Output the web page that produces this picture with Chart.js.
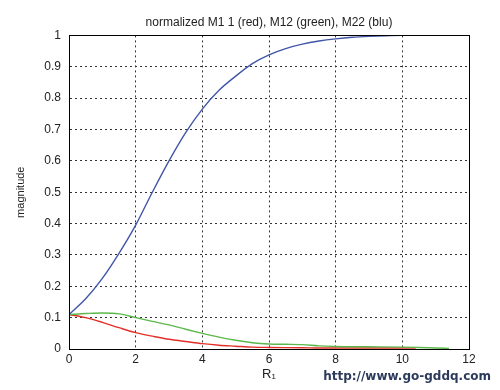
<!DOCTYPE html>
<html>
<head>
<meta charset="utf-8">
<script src="https://cdn.jsdelivr.net/npm/chart.js@4/dist/chart.umd.min.js"></script>
<style>
  body { margin: 0; background: #fff; }
  #box { width: 500px; height: 390px; }
</style>
</head>
<body>
<div id="box"><canvas id="grafico" width="500" height="390"></canvas></div>
<script>
// valores
const xM11 = [0, 0.5, 1, 1.5, 2, 2.5, 3, 3.5, 4, 4.5, 5, 5.5, 6, 7, 7.5, 8, 9, 10, 10.4];
const m11 = [0.11, 0.1, 0.085, 0.068, 0.052, 0.041, 0.031, 0.024, 0.017, 0.012, 0.009, 0.006, 0.005, 0.004, 0.003, 0.003, 0.003, 0.003, 0.003];

const xM12 = [0, 0.5, 1, 1.5, 2, 2.5, 3, 3.5, 4, 4.5, 5, 5.5, 6, 6.5, 7, 7.5, 8, 9, 10, 10.5, 11, 11.4];
const m12 = [0.11, 0.113, 0.115, 0.112, 0.1, 0.088, 0.077, 0.063, 0.05, 0.038, 0.028, 0.02, 0.016, 0.015, 0.014, 0.01, 0.008, 0.007, 0.006, 0.005, 0.003, 0.002];

const xM22 = [0, 0.5, 1, 1.5, 2, 2.5, 3, 3.5, 4, 4.5, 5, 5.5, 6, 6.5, 7, 7.5, 8, 8.5, 9, 9.5, 10, 10.5, 11, 11.4];
const m22 = [0.11, 0.16, 0.225, 0.305, 0.395, 0.5, 0.6, 0.69, 0.765, 0.825, 0.87, 0.91, 0.938, 0.958, 0.972, 0.982, 0.989, 0.994, 0.997, 0.999, 1, 1, 1, 1];

const xTicks = [0, 2, 4, 6, 8, 10, 12];
const yTicks = [0, 0.1, 0.2, 0.3, 0.4, 0.5, 0.6, 0.7, 0.8, 0.9, 1];

function pontos(xs, ys) {
  return xs.map((x, i) => ({ x: x, y: ys[i] }));
}

const familia = "'Liberation Sans', Arial, sans-serif";
const fonte = { family: familia, size: 12 };

// moldura e marca d'água
const moldura = {
  id: "moldura",
  afterDraw(c) {
    const a = c.chartArea, ctx = c.ctx;
    ctx.save();
    ctx.strokeStyle = "#000";
    ctx.lineWidth = 1;
    ctx.strokeRect(Math.round(a.left) + 0.5, Math.round(a.top) + 0.5, Math.round(a.right - a.left), Math.round(a.bottom - a.top));
    ctx.font = "bold 12px 'DejaVu Sans', sans-serif";
    ctx.fillStyle = "#2c3a5c";
    ctx.textAlign = "right";
    ctx.textBaseline = "middle";
    ctx.fillText("http://www.go-gddq.com", 491, 377);
    ctx.restore();
  }
};

function serie(label, xs, ys, cor) {
  return {
    label: label,
    data: pontos(xs, ys),
    borderColor: cor,
    borderWidth: 1.4,
    pointRadius: 0,
    cubicInterpolationMode: "monotone"
  };
}

new Chart(document.getElementById("grafico"), {
  type: "line",
  data: {
    datasets: [
      serie("M22", xM22, m22, "#4156a8"),
      serie("M12", xM12, m12, "#5cb84c"),
      serie("M11", xM11, m11, "#e2302a")
    ]
  },
  options: {
    responsive: false,
    animation: false,
    layout: { padding: { top: 0, right: 31, left: 0, bottom: 0 } },
    plugins: {
      legend: { display: false },
      tooltip: { enabled: false },
      title: {
        display: true,
        fullSize: false,
        text: "normalized M1 1 (red), M12 (green), M22 (blu)",
        color: "#222",
        font: { family: familia, size: 12, weight: "normal" },
        padding: { top: 15, bottom: 6 }
      }
    },
    scales: {
      x: {
        type: "linear",
        min: 0, max: 12,
        afterBuildTicks: s => { s.ticks = xTicks.map(v => ({ value: v })); },
        afterFit: s => { s.height = 41; },
        ticks: { color: "#222", font: fonte, padding: 3, maxRotation: 0 },
        grid: { color: "#333", drawTicks: false },
        border: { color: "#000", dash: [2, 3] },
        title: { display: true, text: "R\u2081", color: "#222", font: { family: familia, size: 13 }, padding: { top: 0, bottom: 8 } }
      },
      y: {
        min: 0, max: 1,
        afterBuildTicks: s => { s.ticks = yTicks.map(v => ({ value: v })); },
        afterFit: s => { s.width = 69; },
        ticks: { color: "#222", font: fonte, padding: 8, callback: v => String(Math.round(v * 10) / 10) },
        grid: { color: "#333", drawTicks: false },
        border: { color: "#000", dash: [2, 3] },
        title: { display: true, text: "magnitude", color: "#222", font: { family: familia, size: 11 }, padding: { top: 14, bottom: 0 } }
      }
    }
  },
  plugins: [moldura]
});
</script>
</body>
</html>
